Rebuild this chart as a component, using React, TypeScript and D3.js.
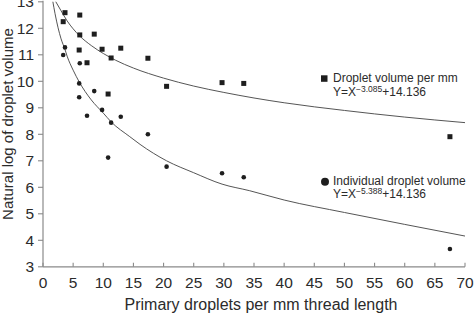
import React from "react";
import * as d3 from "d3";

const xTicks = [0, 5, 10, 15, 20, 25, 30, 35, 40, 45, 50, 55, 60, 65, 70];
const yTicks = [3, 4, 5, 6, 7, 8, 9, 10, 11, 12, 13];

// Droplet volume per mm (squares)
const perMmX = [3.65, 6.1, 3.35, 6.1, 8.5, 6.0, 9.8, 12.9, 11.3, 7.3, 10.8, 17.4, 20.5, 29.7, 33.3, 67.5];
const perMmY = [12.59, 12.5, 12.25, 11.75, 11.78, 11.18, 11.21, 11.25, 10.88, 10.7, 9.52, 10.87, 9.81, 9.95, 9.92, 7.91];

// Individual droplet volume (circles)
const indivX = [3.65, 3.35, 6.1, 6.0, 8.5, 6.0, 7.3, 9.8, 11.3, 12.9, 10.8, 17.4, 20.5, 29.7, 33.3, 67.5];
const indivY = [11.28, 10.99, 10.68, 9.92, 9.63, 9.4, 8.7, 8.92, 8.44, 8.66, 7.12, 8.0, 6.78, 6.53, 6.38, 3.67];

// Fitted curves
const fitPerMmX = [2.0, 3, 4, 5, 6, 8, 10, 12, 15, 20, 25, 30, 35, 40, 50, 60, 70];
const fitPerMmY = [13.05, 12.66, 12.28, 11.98, 11.73, 11.35, 11.05, 10.8, 10.5, 10.12, 9.82, 9.58, 9.37, 9.19, 8.9, 8.65, 8.44];
const fitIndivX = [1.6, 2, 2.5, 3, 3.65, 4, 5, 6, 8, 10, 11.3, 14.4, 16.1, 20.5, 25, 29.7, 34.3, 40, 50, 60, 70];
const fitIndivY = [13.05, 12.55, 12.02, 11.6, 11.2, 10.95, 10.42, 9.98, 9.3, 8.8, 8.47, 7.91, 7.62, 7.0, 6.55, 6.12, 5.87, 5.52, 5.05, 4.6, 4.16];

const W = 474;
const H = 320;
const left = 43;
const right = 465;
const top = 1.8;
const bottom = 266.8;

export default function App() {
  const x = d3.scaleLinear().domain([0, 70]).range([left, right]);
  const y = d3.scaleLinear().domain([3, 13]).range([bottom, top]);
  const line = d3
    .line<[number, number]>()
    .x((d) => x(d[0]))
    .y((d) => y(d[1]))
    .curve(d3.curveMonotoneX);
  const upper = line(fitPerMmX.map((v, i) => [v, fitPerMmY[i]] as [number, number])) || "";
  const lower = line(fitIndivX.map((v, i) => [v, fitIndivY[i]] as [number, number])) || "";
  const axisColor = "#8a8a8a";
  const textColor = "#2b2b2b";
  const font = "'Liberation Sans', Arial, Helvetica, sans-serif";
  const mark = "#1e1e1e";

  return (
    <svg
      width={W}
      height={H}
      style={{ position: "absolute", left: 0, top: 0, background: "#fff" }}
      fontFamily={font}
    >
      <defs>
        <clipPath id="plot">
          <rect x={left} y={top} width={right - left + 2} height={bottom - top} />
        </clipPath>
      </defs>
      {/* axes */}
      <line x1={left} x2={left} y1={top - 1} y2={bottom} stroke={axisColor} strokeWidth={1.2} />
      <line x1={left} x2={right} y1={bottom} y2={bottom} stroke={axisColor} strokeWidth={1.2} />
      {yTicks.map((t) => (
        <g key={"y" + t}>
          <line x1={left - 5} x2={left} y1={y(t)} y2={y(t)} stroke={axisColor} strokeWidth={1.1} />
          <text x={left - 9} y={y(t) + 5.5} textAnchor="end" fontSize={15.5} fill={textColor}>
            {t}
          </text>
        </g>
      ))}
      {xTicks.map((t) => (
        <g key={"x" + t}>
          <line x1={x(t)} x2={x(t)} y1={bottom - 4} y2={bottom} stroke={axisColor} strokeWidth={1.1} />
          <text x={x(t)} y={bottom + 21} textAnchor="middle" fontSize={15.5} fill={textColor}>
            {t}
          </text>
        </g>
      ))}
      <text x={261} y={310} textAnchor="middle" fontSize={16} fill={textColor}>
        Primary droplets per mm thread length
      </text>
      <text
        transform={`translate(13,${124}) rotate(-90)`}
        textAnchor="middle"
        fontSize={15}
        fill={textColor}
      >
        Natural log of droplet volume
      </text>

      {/* fit curves */}
      <g clipPath="url(#plot)">
        <path d={upper} fill="none" stroke="#555" strokeWidth={1} />
        <path d={lower} fill="none" stroke="#555" strokeWidth={1} />
      </g>

      {/* points */}
      {perMmX.map((v, i) => (
        <rect key={"s" + i} x={x(v) - 2.5} y={y(perMmY[i]) - 2.5} width={5} height={5} fill={mark} />
      ))}
      {indivX.map((v, i) => (
        <circle key={"c" + i} cx={x(v)} cy={y(indivY[i])} r={2.3} fill={mark} />
      ))}

      {/* legends */}
      <rect x={321} y={75.3} width={6.5} height={6.5} fill={mark} />
      <text x={333} y={82} fontSize={12} fill={textColor}>
        Droplet volume per mm
      </text>
      <text x={333} y={96} fontSize={12} fill={textColor}>
        Y=X
        <tspan fontSize={8.5} dy={-4}>−3.085</tspan>
        <tspan dy={4}>+14.136</tspan>
      </text>
      <circle cx={325} cy={181.7} r={4} fill={mark} />
      <text x={333} y={184.5} fontSize={12} fill={textColor}>
        Individual droplet volume
      </text>
      <text x={333} y={198} fontSize={12} fill={textColor}>
        Y=X
        <tspan fontSize={8.5} dy={-4}>−5.388</tspan>
        <tspan dy={4}>+14.136</tspan>
      </text>
    </svg>
  );
}
